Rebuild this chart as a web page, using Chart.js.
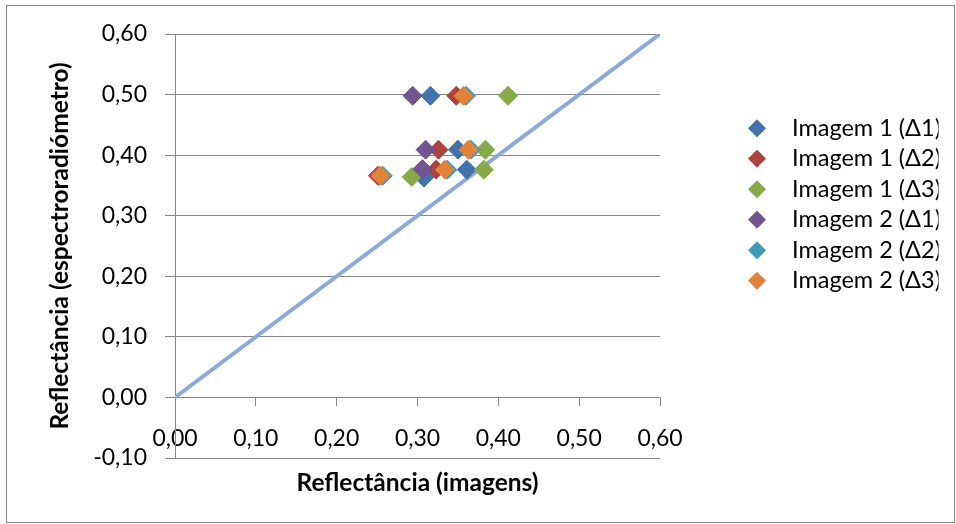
<!DOCTYPE html>
<html>
<head>
<meta charset="utf-8">
<script src="https://cdn.jsdelivr.net/npm/chart.js@4/dist/chart.umd.min.js"></script>
<style>
html,body{margin:0;padding:0;background:#fff;}
#wrap{width:956px;height:524px;position:relative;}
</style>
</head>
<body>
<div id="wrap"><canvas id="c"></canvas></div>
<script>
// ---- data ----
const seriesNames = ['Imagem 1 (Δ1)', 'Imagem 1 (Δ2)', 'Imagem 1 (Δ3)', 'Imagem 2 (Δ1)', 'Imagem 2 (Δ2)', 'Imagem 2 (Δ3)'];

const img1d1X = [0.316, 0.350, 0.361, 0.308];
const img1d1Y = [0.498, 0.409, 0.376, 0.363];

const img1d2X = [0.348, 0.326, 0.323, 0.251];
const img1d2Y = [0.498, 0.409, 0.376, 0.366];

const img1d3X = [0.412, 0.384, 0.382, 0.293];
const img1d3Y = [0.498, 0.409, 0.376, 0.364];

const img2d1X = [0.294, 0.310, 0.306, 0.254];
const img2d1Y = [0.498, 0.409, 0.377, 0.366];

const img2d2X = [0.360, 0.366, 0.337, 0.257];
const img2d2Y = [0.498, 0.409, 0.376, 0.366];

const img2d3X = [0.357, 0.363, 0.334, 0.254];
const img2d3Y = [0.498, 0.409, 0.376, 0.366];

const refLineX = [0.0, 0.6];
const refLineY = [0.0, 0.6];

const xAxisMin = 0.0, xAxisMax = 0.6;
const yAxisMin = -0.1, yAxisMax = 0.6;
const tickStep = 0.1;

const xTitle = 'Reflectância (imagens)';
const yTitle = 'Reflectância (espectroradiómetro)';

// ---- styling ----
const colors = ['#4472AB', '#AB4340', '#88A94A', '#71558F', '#3E9BB6', '#E1823B'];
const lineColor = '#8DA9D8';
const gridColor = '#868686';
const FONT = 'Lato, "Open Sans", sans-serif';
Chart.defaults.font.family = FONT;
Chart.defaults.color = '#000';

const seriesX = [img1d1X, img1d2X, img1d3X, img2d1X, img2d2X, img2d3X];
const seriesY = [img1d1Y, img1d2Y, img1d3Y, img2d1Y, img2d2Y, img2d3Y];

const pts = (xs, ys) => xs.map((x, i) => ({x: x, y: ys[i]}));
const fmt = v => {
  let n = Number(v);
  if (Math.abs(n) < 1e-9) n = 0;
  return n.toFixed(2).replace('.', ',');
};

const datasets = seriesNames.map((name, i) => ({
  label: name,
  data: pts(seriesX[i], seriesY[i]),
  pointStyle: 'rectRot',
  pointRadius: 9.5,
  pointHoverRadius: 9.5,
  backgroundColor: colors[i],
  borderColor: colors[i],
  borderWidth: 1,
  order: seriesNames.length - i
}));
datasets.push({
  label: 'ref',
  data: pts(refLineX, refLineY),
  showLine: true,
  borderColor: lineColor,
  backgroundColor: lineColor,
  borderWidth: 4,
  pointRadius: 0,
  pointHoverRadius: 0,
  order: 100
});

const frame = {
  id: 'frame',
  beforeDraw(chart) {
    const c = chart.ctx;
    c.save();
    c.fillStyle = '#fff';
    c.fillRect(0, 0, chart.width, chart.height);
    c.strokeStyle = '#898989';
    c.lineWidth = 1;
    c.strokeRect(6.5, 5.5, chart.width - 8, chart.height - 7);
    c.restore();
  }
};

new Chart(document.getElementById('c'), {
  type: 'scatter',
  data: {datasets: datasets},
  options: {
    responsive: true,
    maintainAspectRatio: false,
    animation: false,
    events: [],
    layout: {padding: {left: 0, top: 34, right: 17.5, bottom: 0}},
    plugins: {
      tooltip: {enabled: false},
      legend: {
        position: 'right',
        align: 'start',
        maxWidth: 200,
        title: {display: true, text: '', font: {size: 10, lineHeight: 1}, padding: {top: 65.5, bottom: 0}},
        labels: {
          usePointStyle: true,
          boxWidth: 23,
          boxHeight: 12,
          padding: 7,
          color: '#000',
          font: {size: 23.5},
          filter: item => item.datasetIndex < seriesNames.length,
          sort: (a, b) => a.datasetIndex - b.datasetIndex,
          generateLabels: chart => Chart.defaults.plugins.legend.labels.generateLabels(chart)
            .map(l => Object.assign({}, l, {text: '\u2002' + l.text}))
        }
      }
    },
    scales: {
      x: {
        type: 'linear',
        position: {y: 0},
        min: xAxisMin, max: xAxisMax,
        ticks: {stepSize: tickStep, callback: fmt, padding: 19, font: {size: 23}, color: '#000'},
        grid: {drawOnChartArea: false, drawTicks: true, tickLength: 8, color: gridColor},
        border: {color: gridColor, width: 1}
      },
      x2: {
        type: 'linear',
        position: 'bottom',
        min: xAxisMin, max: xAxisMax,
        ticks: {display: false},
        grid: {display: false},
        border: {display: false},
        title: {display: true, text: xTitle, color: '#000', font: {size: 24.5, weight: 'bold'}, padding: {top: 0, bottom: 26.3}},
        afterFit: s => { s.height = 66; }
      },
      y: {
        type: 'linear',
        position: 'left',
        min: yAxisMin, max: yAxisMax,
        ticks: {stepSize: tickStep, callback: fmt, padding: 18, font: {size: 23}, color: '#000'},
        grid: {color: gridColor, tickLength: 10},
        border: {color: gridColor, width: 1},
        title: {display: true, text: yTitle, color: '#000', font: {size: 24.5, weight: 'bold'}, padding: {top: 45.3, bottom: 0}},
        afterFit: s => { s.width = 175; }
      },
      yR: {
        type: 'linear',
        position: 'right',
        min: 0, max: 1,
        ticks: {display: false},
        grid: {display: false},
        border: {display: false},
        afterFit: s => { s.width = 78.5; }
      }
    }
  },
  plugins: [frame]
});
</script>
</body>
</html>
